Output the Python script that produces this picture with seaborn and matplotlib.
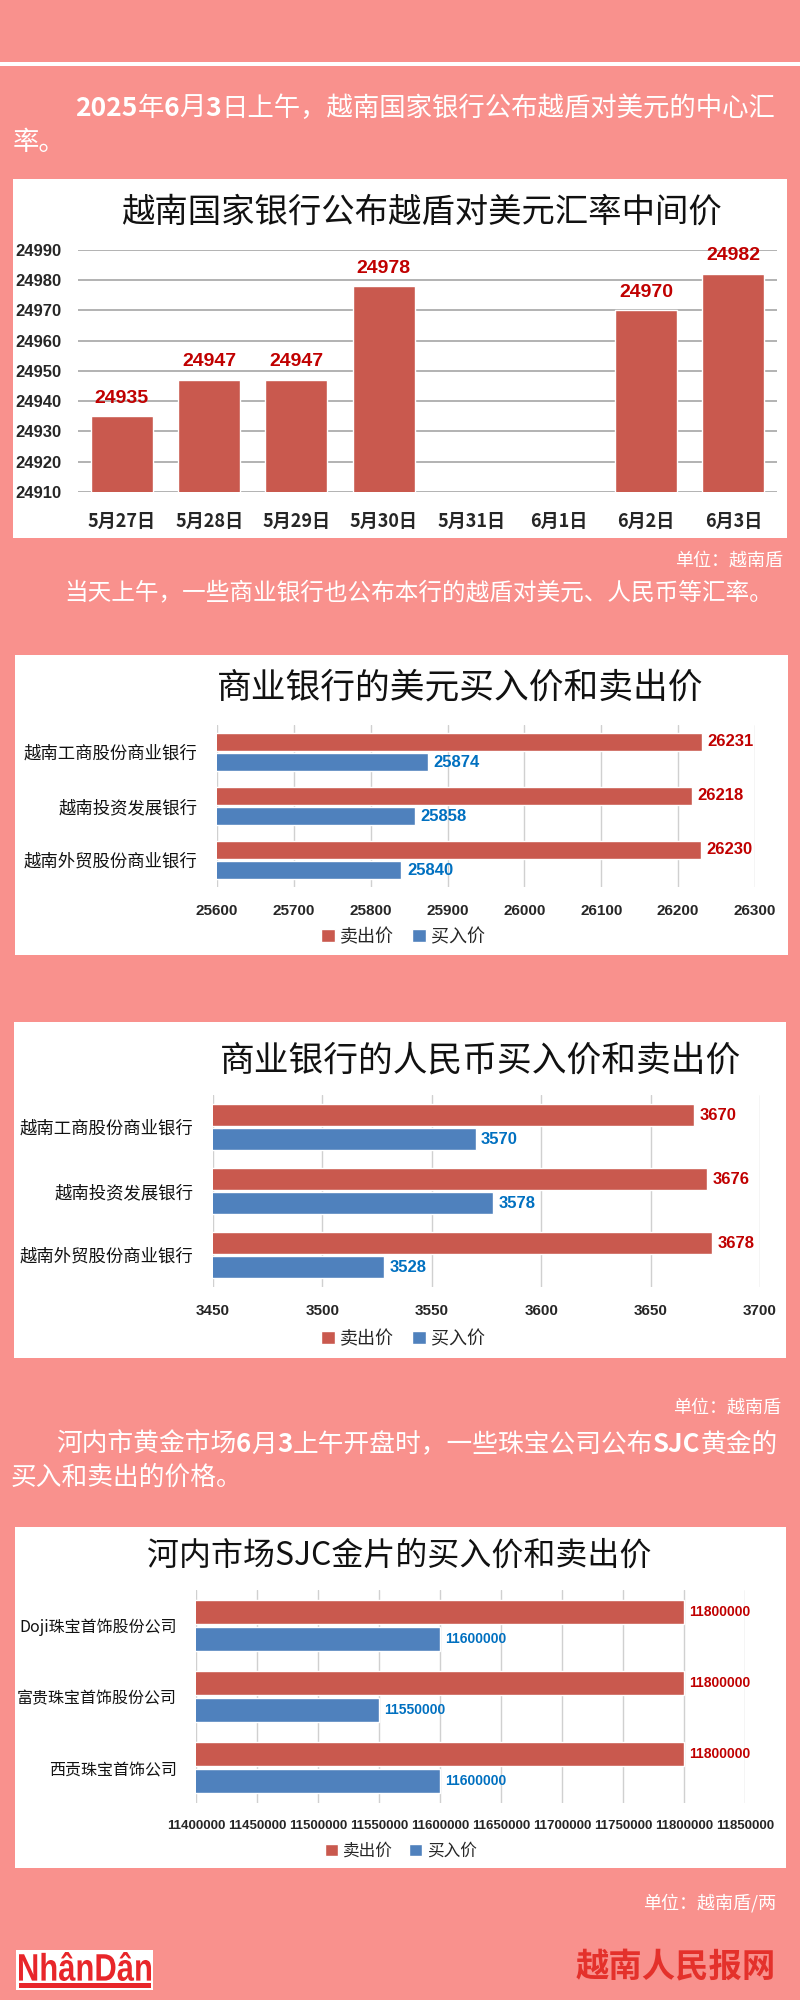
import numpy as np
import pandas as pd
import matplotlib
matplotlib.use("Agg")
import matplotlib.pyplot as plt
import seaborn as sns
from matplotlib.patches import Rectangle, Patch, PathPatch
from matplotlib.textpath import TextPath
from matplotlib.transforms import Affine2D, IdentityTransform
from matplotlib.font_manager import FontProperties
from matplotlib import font_manager as fm

# ---------------- data ----------------
dates = ['5月27日', '5月28日', '5月29日', '5月30日', '5月31日', '6月1日', '6月2日', '6月3日']
central_rate = [24935, 24947, 24947, 24978, np.nan, np.nan, 24970, 24982]

banks = ['越南工商股份商业银行', '越南投资发展银行', '越南外贸股份商业银行']
usd_sell = [26231, 26218, 26230]
usd_buy = [25874, 25858, 25840]
cny_sell = [3670, 3676, 3678]
cny_buy = [3570, 3578, 3528]

gold_companies = ['Doji珠宝首饰股份公司', '富贵珠宝首饰股份公司', '西贡珠宝首饰公司']
gold_sell = [11800000, 11800000, 11800000]
gold_buy = [11600000, 11550000, 11600000]

series_names = ['卖出价', '买入价']

# ---------------- style ----------------
PINK = '#F9918D'
RED = '#C9594E'
BLUE = '#4F81BD'
LRED = '#C00000'
LBLUE = '#0070C0'
CJK = ['Noto Sans CJK SC', 'DejaVu Sans']
names = {f.name for f in fm.fontManager.ttflist}
NUMF = ['Liberation Sans Narrow'] if 'Liberation Sans Narrow' in names else ['Liberation Sans']

sns.set_theme(style='white')
plt.rcParams['font.family'] = CJK

W, H = 800, 2000
fig = plt.figure(figsize=(8, 20), dpi=100)
fig.patch.set_facecolor(PINK)


def fx(x):
    return x / W


def fy(y):
    return 1 - y / H


def box(x0, y0, x1, y1, color, z=-5):
    fig.patches.append(Rectangle((fx(x0), fy(y1)), (x1 - x0) / W, (y1 - y0) / H,
                                 transform=fig.transFigure, facecolor=color,
                                 edgecolor='none', zorder=z))


def axes_px(x0, y0, x1, y1):
    ax = fig.add_axes([fx(x0), fy(y1), (x1 - x0) / W, (y1 - y0) / H])
    ax.set_facecolor('none')
    ax.set_zorder(2)
    return ax


renderer = fig.canvas.get_renderer()


def runs(x, y, parts, size, color='white'):
    for txt, bold in parts:
        t = fig.text(fx(x), fy(y), txt, fontsize=size, color=color,
                     fontweight='bold' if bold else 'normal',
                     ha='left', va='center', family=CJK)
        bb = t.get_window_extent(renderer)
        x += bb.width


# top white rule
box(0, 62, 800, 66, 'white')

# paragraph 1
runs(75, 108, [('2025', True), ('年', False), ('6', True), ('月', False), ('3', True),
               ('日上午，越南国家银行公布越盾对美元的中心汇', False)], 19)
runs(13, 142, [('率。', False)], 19)

# ---------------- chart 1 ----------------
box(13, 179, 787, 538, 'white')
fig.text(fx(421), fy(212), '越南国家银行公布越盾对美元汇率中间价', fontsize=24,
         ha='center', va='center', color='#111111', family=CJK)
ax1 = axes_px(78, 250, 777, 492)
df1 = pd.DataFrame({'date': dates, 'rate': central_rate})
sns.barplot(data=df1, x='date', y='rate', order=dates, color=RED, width=0.71,
            saturation=1, errorbar=None, ax=ax1, zorder=2)
ax1.set_ylim(24910, 24990)
ax1.set_yticks(list(range(24910, 24991, 10)))
ax1.set_yticklabels([str(v) for v in range(24910, 24991, 10)], fontsize=12,
                    fontweight='bold', family=NUMF)
ax1.set_xticks(range(len(dates)))
ax1.set_xticklabels(dates, fontsize=13, fontweight='bold', family=CJK)
ax1.grid(axis='y', color='#A6A6A6', lw=1.2)
ax1.grid(axis='x', visible=False)
ax1.set_axisbelow(True)
for s in ax1.spines.values():
    s.set_visible(False)
ax1.tick_params(axis='y', length=0, pad=12)
ax1.tick_params(axis='x', length=0, pad=14)
ax1.set_xlabel('')
ax1.set_ylabel('')
for c in ax1.containers:
    labs = ['' if np.isnan(v) else f'{v:.0f}' for v in c.datavalues]
    ax1.bar_label(c, labels=labs, padding=7, color=LRED, fontsize=14,
                  fontweight='bold', family=NUMF)

fig.text(fx(783), fy(561), '单位：越南盾', fontsize=13, color='white',
         ha='right', va='center', family=CJK)
runs(64, 593, [('当天上午，一些商业银行也公布本行的越盾对美元、人民币等汇率。', False)], 17)


# ---------------- horizontal bar helper ----------------
def hbar(rect, title, title_xy, title_size, cats, sell, buy, xlim, step,
         tick_size, cat_size, val_size, legend_xy, legend_size, gap=0.12):
    ax = axes_px(*rect)
    df = pd.DataFrame({'cat': cats * 2,
                       'type': [series_names[0]] * len(cats) + [series_names[1]] * len(cats),
                       'value': sell + buy})
    sns.barplot(data=df, x='value', y='cat', hue='type', hue_order=series_names,
                order=cats, palette=[RED, BLUE], orient='h', width=0.75, gap=gap,
                saturation=1, errorbar=None, legend=False, ax=ax, zorder=2)
    ax.set_xlim(*xlim)
    ticks = list(range(xlim[0], xlim[1] + 1, step))
    ax.set_xticks(ticks)
    ax.set_xticklabels([str(t) for t in ticks], fontsize=tick_size,
                       fontweight='bold', family=NUMF)
    ax.set_ylim(len(cats) - 0.5, -0.5)
    ax.set_yticks(range(len(cats)))
    ax.set_yticklabels(cats, fontsize=cat_size, family=CJK, color='#111111')
    ax.grid(axis='x', color='#D0D0D0', lw=1)
    ax.grid(axis='y', visible=False)
    ax.set_axisbelow(True)
    for s in ax.spines.values():
        s.set_visible(False)
    ax.tick_params(axis='y', length=0, pad=14)
    ax.tick_params(axis='x', length=0, pad=12)
    ax.set_xlabel('')
    ax.set_ylabel('')
    for c, col in zip(ax.containers, [LRED, LBLUE]):
        ax.bar_label(c, labels=[f'{v:.0f}' for v in c.datavalues], padding=4,
                     color=col, fontsize=val_size, fontweight='bold', family=NUMF)
    fig.text(fx(title_xy[0]), fy(title_xy[1]), title, fontsize=title_size,
             ha='center', va='center', color='#111111', family=CJK)
    handles = [Patch(facecolor=RED), Patch(facecolor=BLUE)]
    fig.legend(handles, series_names, loc='center',
               bbox_to_anchor=(fx(legend_xy[0]), fy(legend_xy[1])),
               ncol=2, frameon=False, handlelength=0.75, handleheight=0.75,
               handletextpad=0.3, columnspacing=1.0,
               prop={'family': CJK, 'size': legend_size})
    return ax


# ---------------- chart 2 ----------------
box(15, 655, 788, 955, 'white')
hbar((217, 725, 755, 887), '商业银行的美元买入价和卖出价', (460, 688), 25,
     banks, usd_sell, usd_buy, (25600, 26300), 100,
     11, 12.5, 12, (403, 937), 13)

# ---------------- chart 3 ----------------
box(14, 1022, 786, 1358, 'white')
hbar((213, 1095, 760, 1287), '商业银行的人民币买入价和卖出价', (481, 1061), 25,
     banks, cny_sell, cny_buy, (3450, 3700), 50,
     11, 12.5, 12, (403, 1339), 13)

fig.text(fx(781), fy(1408), '单位：越南盾', fontsize=13, color='white',
         ha='right', va='center', family=CJK)
runs(56, 1445, [('河内市黄金市场', False), ('6', True), ('月', False), ('3', True),
                ('上午开盘时，一些珠宝公司公布', False), ('SJC', True), ('黄金的', False)], 18.5)
runs(11, 1478, [('买入和卖出的价格。', False)], 18.5)

# ---------------- chart 4 ----------------
box(15, 1527, 786, 1868, 'white')
hbar((196, 1590, 745, 1803), '河内市场SJC金片的买入价和卖出价', (399, 1556), 23,
     gold_companies, gold_sell, gold_buy, (11400000, 11850000), 50000,
     9.5, 11.5, 10, (401, 1851), 12)

fig.text(fx(776), fy(1903), '单位：越南盾/两', fontsize=13, color='white',
         ha='right', va='center', family=CJK)

# ---------------- footer ----------------
box(16, 1950, 153, 1990, 'white')
LOGO_RED = '#E8262A'
tp = TextPath((0, 0), 'NhânDân', size=40,
              prop=FontProperties(family='Liberation Sans', weight='bold'))
ext = tp.get_extents()
tx0, tx1, ty0, ty1 = 19, 151, 1952, 1981   # target box in top-down pixels
sx = (tx1 - tx0) / ext.width
sy = (ty1 - ty0) / ext.height
tr = Affine2D().translate(-ext.x0, -ext.y0).scale(sx, sy).translate(tx0, H - ty1)
fig.patches.append(PathPatch(tr.transform_path(tp), transform=IdentityTransform(),
                             facecolor=LOGO_RED, edgecolor='none', zorder=-3))
box(19, 1983, 151, 1988, LOGO_RED, z=-4)
fig.text(fx(776), fy(1968), '越南人民报网', fontsize=24, fontweight='bold',
         color='#E4312B', ha='right', va='center', family=CJK)

fig.savefig('out.png', dpi=100, facecolor=PINK)
